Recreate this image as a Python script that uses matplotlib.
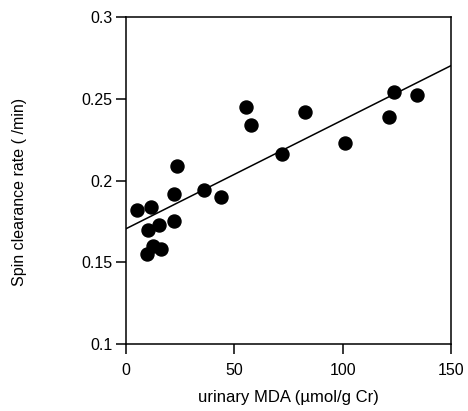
import matplotlib
matplotlib.use('Agg')
import matplotlib.pyplot as plt
import numpy as np

plt.rcParams['font.family'] = ['Liberation Sans', 'DejaVu Sans']

# urinary MDA (umol/g Cr) vs spin clearance rate (/min)
mda = [5.1, 11.5, 10.3, 15.1, 9.5, 12.6, 16.0, 22.0, 22.3, 23.4,
       36.1, 44.0, 55.4, 57.7, 72.1, 82.5, 101.1, 121.5, 123.5, 134.5]
clearance = [0.182, 0.184, 0.170, 0.173, 0.155, 0.160, 0.158, 0.192, 0.175, 0.209,
             0.194, 0.190, 0.245, 0.234, 0.216, 0.242, 0.223, 0.239, 0.254, 0.252]

# regression line
intercept = 0.1705
slope = 0.000665

fig = plt.figure(figsize=(4.68, 4.11), dpi=100)
ax = fig.add_axes([0.2692, 0.163, 0.6944, 0.7956])

ax.scatter(mda, clearance, s=88, color='black', zorder=3)
xl = np.array([0, 150])
ax.plot(xl, intercept + slope * xl, color='black', lw=1.1)

ax.set_xlim(0, 150)
ax.set_ylim(0.1, 0.3)
ax.set_xticks([0, 50, 100, 150])
ax.set_yticks([0.1, 0.15, 0.2, 0.25, 0.3])
ax.set_yticklabels(['0.1', '0.15', '0.2', '0.25', '0.3'])
ax.tick_params(direction='out', length=7.5, width=1.1, labelsize=11.5)
ax.tick_params(axis='x', pad=6)
ax.tick_params(axis='y', pad=2)
ax.tick_params(top=False, right=False)
for s in ax.spines.values():
    s.set_linewidth(1.1)

ax.set_xlabel('urinary MDA (\u00b5mol/g Cr)', fontsize=12, labelpad=9)
ax.set_ylabel('Spin clearance rate ( /min)', fontsize=11.5)
ax.yaxis.set_label_coords(-0.305, 0.465)

fig.savefig('out.png', dpi=100)
